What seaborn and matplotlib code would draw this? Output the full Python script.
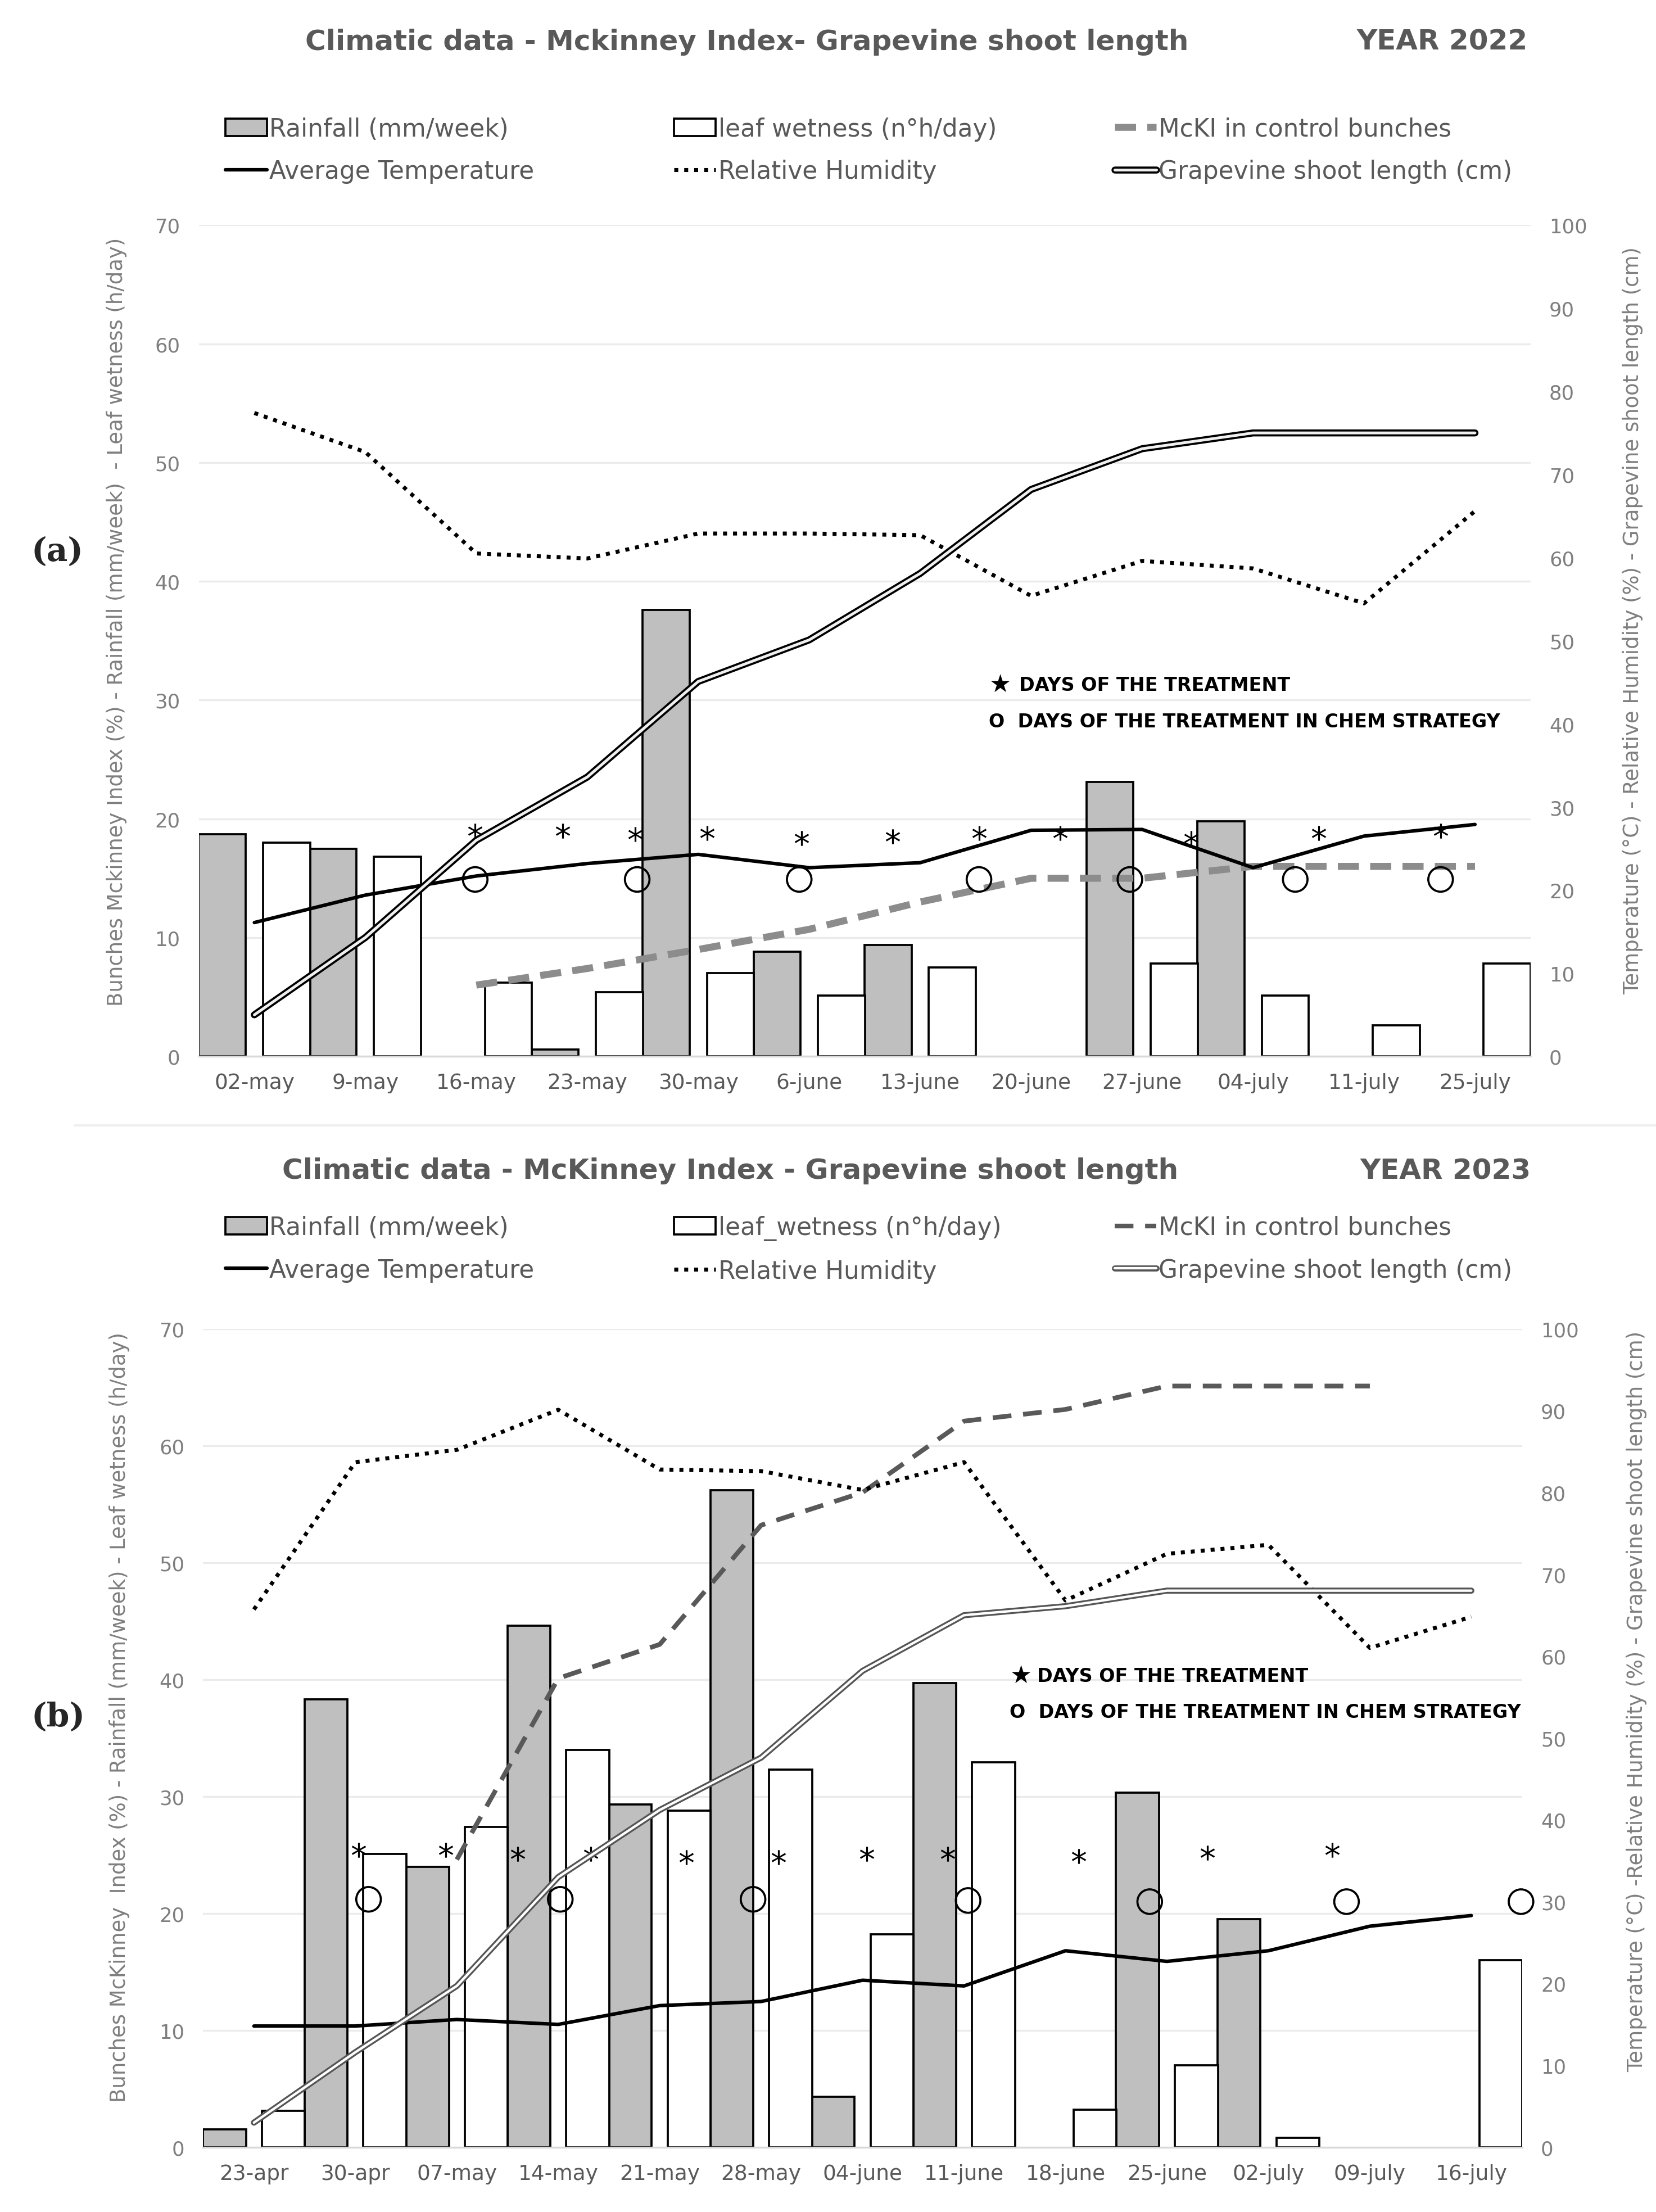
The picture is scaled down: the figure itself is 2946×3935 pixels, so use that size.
import numpy as np
import pandas as pd
import matplotlib
matplotlib.use('Agg')
import matplotlib.pyplot as plt
import matplotlib.patheffects as pe
from matplotlib.lines import Line2D
from matplotlib.patches import Patch
import seaborn as sns

sns.set_style('white')
plt.rcParams['font.family'] = ['DejaVu Sans']

# ---- 2022 ----
weeks_22 = ['02-may', '9-may', '16-may', '23-may', '30-may', '6-june', '13-june',
            '20-june', '27-june', '04-july', '11-july', '25-july']
rain_22 = [18.7, 17.5, 0, 0.6, 37.6, 8.8, 9.4, 0, 23.1, 19.8, 0, 0]
leaf_22 = [18.0, 16.8, 6.2, 5.4, 7.0, 5.1, 7.5, 0, 7.8, 5.1, 2.6, 7.8]
mcki_22 = [None, None, 6.0, 7.4, 9.0, 10.7, 13.0, 15.0, 15.0, 16.0, 16.0, 16.0]
temp_22 = [16.1, 19.4, 21.7, 23.2, 24.3, 22.7, 23.3, 27.2, 27.3, 22.7, 26.5, 27.9]
rh_22 = [77.4, 72.7, 60.5, 59.9, 62.9, 62.9, 62.7, 55.4, 59.6, 58.7, 54.5, 65.6]
shoot_22 = [5.0, 14.3, 26.0, 33.6, 45.1, 50.1, 58.1, 68.2, 73.1, 75.0, 75.0, 75.0]
star_x_22 = [1.99, 2.78, 3.43, 4.08, 4.93, 5.75, 6.53, 7.26, 8.44, 9.59, 10.69]
star_y_22 = [19.0, 19.0, 18.7, 18.8, 18.4, 18.5, 18.8, 18.8, 18.4, 18.8, 19.0]
circ_x_22 = [1.99, 3.45, 4.91, 6.53, 7.89, 9.38, 10.69]
circ_y_22 = [14.9, 14.9, 14.9, 14.9, 14.9, 14.9, 14.9]

# ---- 2023 ----
weeks_23 = ['23-apr', '30-apr', '07-may', '14-may', '21-may', '28-may', '04-june',
            '11-june', '18-june', '25-june', '02-july', '09-july', '16-july']
rain_23 = [1.5, 38.3, 24.0, 44.6, 29.3, 56.2, 4.3, 39.7, 0, 30.3, 19.5, 0, 0]
leaf_23 = [3.1, 25.1, 27.4, 34.0, 28.8, 32.3, 18.2, 32.9, 3.2, 7.0, 0.8, 0, 16.0]
mcki_23 = [None, None, 24.6, 40.1, 43.0, 53.2, 56.0, 62.1, 63.1, 65.1, 65.1, 65.1, None]
temp_23 = [14.8, 14.8, 15.6, 15.0, 17.3, 17.8, 20.4, 19.7, 24.0, 22.7, 24.0, 27.0, 28.3]
rh_23 = [65.7, 83.7, 85.2, 90.1, 82.8, 82.6, 80.3, 83.7, 66.8, 72.5, 73.6, 61.0, 64.8]
shoot_23 = [3.0, 11.6, 19.7, 33.0, 41.2, 47.6, 58.2, 65.0, 66.1, 68.0, 68.0, 68.0, 68.0]
star_x_23 = [1.03, 1.89, 2.60, 3.32, 4.26, 5.17, 6.04, 6.84, 8.13, 9.40, 10.63]
star_y_23 = [25.4, 25.4, 25.1, 25.1, 24.8, 24.8, 25.1, 25.1, 24.9, 25.2, 25.4]
circ_x_23 = [1.13, 3.02, 4.92, 7.04, 8.83, 10.77, 12.49]
circ_y_23 = [21.2, 21.2, 21.2, 21.1, 21.0, 21.0, 21.0]

GRAY_TXT = '#595959'
TICK_TXT = '#7f7f7f'

fig = plt.figure(figsize=(2946 / 300, 3936 / 300), dpi=300)


def double_fx(style):
    # black (or gray) outline with a light core, like the Excel double line
    return [pe.Stroke(linewidth=style['lw'], foreground=style['edge']), pe.Normal()]


def panel(rect, weeks, rain, leaf, mcki, temp, rh, shoot,
          sx, sy, cx, cy, note_xy, mk_style, shoot_style, ylab_l, ylab_r, lab_pos):
    n = len(weeks)
    ax = fig.add_axes(rect)
    df = pd.DataFrame({'week': np.arange(n), 'Rainfall': rain, 'Leaf': leaf})
    df = df.melt('week', var_name='var', value_name='val')
    sns.barplot(data=df, x='week', y='val', hue='var',
                palette={'Rainfall': '#bfbfbf', 'Leaf': 'white'},
                width=1.16, gap=0.27, edgecolor='black', linewidth=0.9,
                saturation=1, errorbar=None, legend=False, ax=ax)
    for p in ax.patches:
        if p.get_height() == 0:
            p.set_visible(False)

    # McKinney index on the left scale
    mk = pd.DataFrame({'x': np.arange(n), 'y': mcki}).dropna()
    sns.lineplot(data=mk, x='x', y='y', ax=ax, color=mk_style['color'],
                 lw=mk_style['lw'], linestyle=(0, mk_style['dash']))

    sns.scatterplot(x=sx, y=sy, ax=ax, marker='$*$', s=40, color='black',
                    linewidth=0, zorder=6)
    sns.scatterplot(x=cx, y=cy, ax=ax, marker='o', s=110, fc='none', ec='black',
                    linewidth=0.9, zorder=6, clip_on=False)

    ax.text(note_xy[0], note_xy[1], '\u2605', fontsize=10.5, color='black',
            va='center', ha='left')
    ax.text(note_xy[0] + 0.27, note_xy[1], 'DAYS OF THE TREATMENT', fontsize=8,
            weight='bold', color='black', va='center', ha='left')
    ax.text(note_xy[0], note_xy[2], 'O  DAYS OF THE TREATMENT IN CHEM STRATEGY',
            fontsize=8, weight='bold', color='black', va='center', ha='left')

    ax.set_xlim(-0.5, n - 0.5)
    ax.set_ylim(0, 70)
    ax.set_yticks(range(0, 71, 10))
    ax.set_xticks(range(n), weeks)
    ax.grid(axis='y', color='#ebebeb', lw=0.8)
    ax.set_axisbelow(True)
    for s in ['left', 'right', 'top']:
        ax.spines[s].set_visible(False)
    ax.spines['bottom'].set_color('#d9d9d9')
    ax.tick_params(length=0)
    ax.tick_params(axis='x', labelsize=9, labelcolor=GRAY_TXT, pad=7)
    ax.tick_params(axis='y', labelsize=8.5, labelcolor=TICK_TXT, pad=8)
    ax.set_xlabel('')
    ax.set_ylabel(ylab_l, fontsize=8.9, color=TICK_TXT)
    ax.yaxis.set_label_coords(lab_pos[0], lab_pos[1])

    ax2 = ax.twinx()
    x = np.arange(n)
    sns.lineplot(x=x, y=rh, ax=ax2, color='black', lw=1.7, linestyle=(0, (1, 1.5)))
    sns.lineplot(x=x, y=temp, ax=ax2, color='black', lw=1.5)
    sns.lineplot(x=x, y=shoot, ax=ax2, color=shoot_style['core'],
                 lw=shoot_style['lw'] * 0.4, path_effects=double_fx(shoot_style))
    ax2.set_ylim(0, 100)
    ax2.set_yticks(range(0, 101, 10))
    for s in ax2.spines.values():
        s.set_visible(False)
    ax2.tick_params(length=0, labelsize=8.5, labelcolor=TICK_TXT, pad=8)
    ax2.set_ylabel(ylab_r, fontsize=8.9, color=TICK_TXT)
    ax2.yaxis.set_label_coords(lab_pos[2], lab_pos[3])
    return ax


def header(y_title, title, x_title, x_year, year, y_leg, leg_x, mk_style, shoot_style, leaf_label):
    fig.text(x_title, y_title, title, ha='center', va='center', fontsize=12,
             weight='bold', color=GRAY_TXT)
    fig.text(x_year, y_title, year, ha='center', va='center', fontsize=12,
             weight='bold', color=GRAY_TXT)
    cols = [
        [(Patch(fc='#bfbfbf', ec='black', lw=0.9), 'Rainfall (mm/week)'),
         (Line2D([], [], color='black', lw=1.5), 'Average Temperature')],
        [(Patch(fc='white', ec='black', lw=0.9), leaf_label),
         (Line2D([], [], color='black', lw=1.7, linestyle=(0, (1, 1.5))), 'Relative Humidity')],
        [(Line2D([], [], color=mk_style['color'], lw=mk_style['lw'],
                 linestyle=(0, mk_style['dash'])), 'McKI in control bunches'),
         (Line2D([], [], color=shoot_style['core'], lw=shoot_style['lw'] * 0.4,
                 path_effects=double_fx(shoot_style)), 'Grapevine shoot length (cm)')],
    ]
    for lx, col in zip(leg_x, cols):
        leg = fig.legend([c[0] for c in col], [c[1] for c in col], loc='upper left',
                         bbox_to_anchor=(lx, y_leg), frameon=False, fontsize=10.5,
                         handlelength=1.7, handletextpad=0.1, borderpad=0,
                         borderaxespad=0, labelspacing=0.75)
        for t in leg.get_texts():
            t.set_color(GRAY_TXT)


mk_a = {'color': '#8c8c8c', 'lw': 3.0, 'dash': (3, 1.6)}
mk_b = {'color': '#595959', 'lw': 2.0, 'dash': (4, 2.5)}
sh_a = {'edge': 'black', 'core': '#f0f0f0', 'lw': 3.0}
sh_b = {'edge': '#555555', 'core': 'white', 'lw': 2.6}

panel([0.1201, 0.5223, 0.8041, 0.3757], weeks_22, rain_22, leaf_22, mcki_22, temp_22,
      rh_22, shoot_22, star_x_22, star_y_22, circ_x_22, circ_y_22, (6.62, 31.3, 28.2),
      mk_a, sh_a,
      'Bunches Mckinney Index (%) - Rainfall (mm/week)  - Leaf wetness (h/day)',
      'Temperature (\u00b0C) - Relative Humidity (%) - Grapevine shoot length (cm)',
      (-0.054, 0.523, 1.069, 0.525))
header(0.981, 'Climatic data - Mckinney Index- Grapevine shoot length', 0.451, 0.871,
       'YEAR 2022', 0.947, [0.136, 0.407, 0.673], mk_a, sh_a, 'leaf wetness (n\u00b0h/day)')

panel([0.1227, 0.0293, 0.7964, 0.3699], weeks_23, rain_23, leaf_23, mcki_23, temp_23,
      rh_23, shoot_23, star_x_23, star_y_23, circ_x_23, circ_y_23, (7.45, 40.3, 37.2),
      mk_b, sh_b,
      'Bunches McKinney  Index (%) - Rainfall (mm/week) - Leaf wetness (h/day)',
      'Temperature (\u00b0C) -Relative Humidity (%) - Grapevine shoot length (cm)',
      (-0.0556, 0.526, 1.079, 0.545))
header(0.4707, 'Climatic data - McKinney Index - Grapevine shoot length', 0.441, 0.873,
       'YEAR 2023', 0.4505, [0.136, 0.407, 0.673], mk_b, sh_b, 'leaf_wetness (n\u00b0h/day)')

fig.text(0.019, 0.7506, '(a)', fontsize=14, weight='bold', family='DejaVu Serif', va='center')
fig.text(0.019, 0.2239, '(b)', fontsize=14, weight='bold', family='DejaVu Serif', va='center')
fig.add_artist(Line2D([0.045, 1.0], [0.491, 0.491], transform=fig.transFigure,
                      color='#efefef', lw=1.0))

fig.savefig('out.png', dpi=300)
